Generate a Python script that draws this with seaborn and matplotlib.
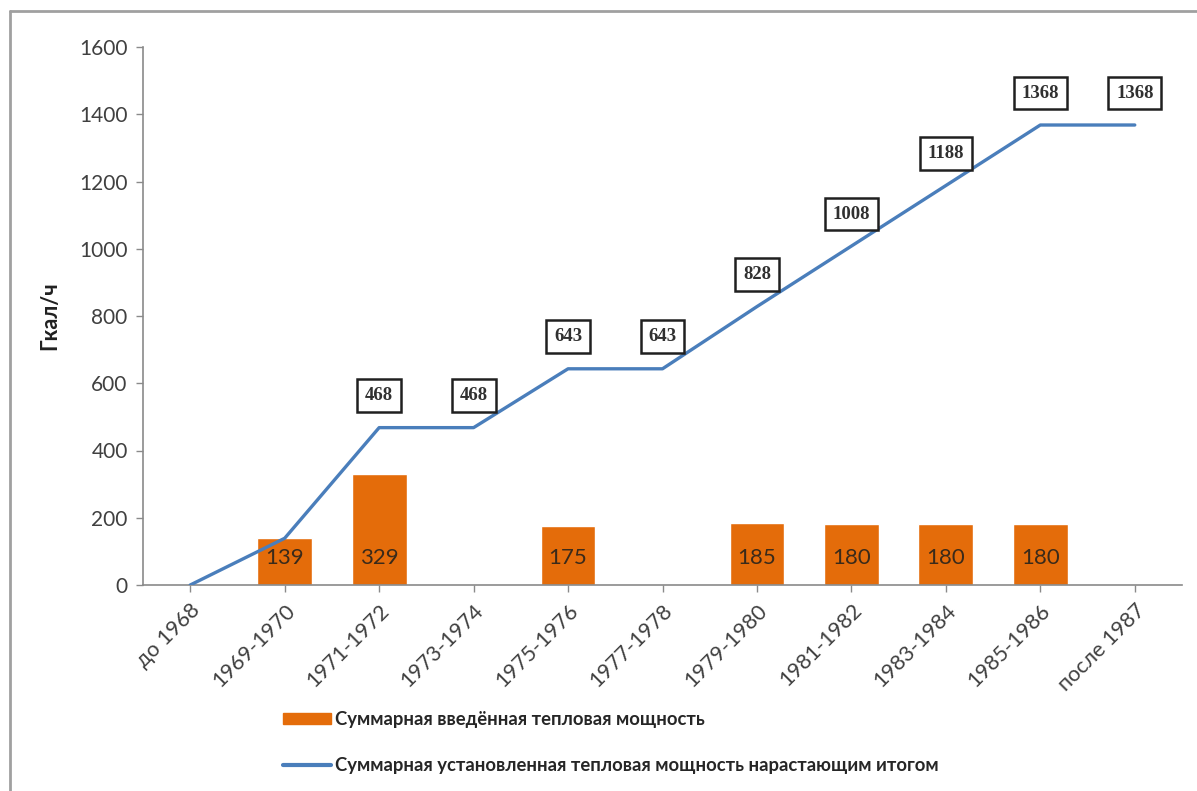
import numpy as np
import pandas as pd
import matplotlib
matplotlib.use("Agg")
import matplotlib.pyplot as plt
from matplotlib.lines import Line2D
from matplotlib.patches import Patch
import seaborn as sns

categories = ["до 1968", "1969-1970", "1971-1972", "1973-1974", "1975-1976",
              "1977-1978", "1979-1980", "1981-1982", "1983-1984", "1985-1986",
              "после 1987"]
added_power = [0, 139, 329, 0, 175, 0, 185, 180, 180, 180, 0]
cumulative_power = [0, 139, 468, 468, 643, 643, 828, 1008, 1188, 1368, 1368]
y_ticks = [0, 200, 400, 600, 800, 1000, 1200, 1400, 1600]
bar_label_name = "Суммарная введённая тепловая мощность"
line_label_name = "Суммарная установленная тепловая мощность нарастающим итогом"
y_label = "Гкал/ч"

sns.set_theme(style="white")
plt.rcParams['font.family'] = ['Lato', 'DejaVu Sans']

W, H = 1197, 791
fig = plt.figure(figsize=(W / 100, H / 100), dpi=100)
ax = fig.add_axes([143 / W, 1 - 585 / H, (1182 - 143) / W, (585 - 47) / H])

df = pd.DataFrame({"cat": categories, "added": added_power, "cum": cumulative_power})
bar_color = "#E46C0A"
line_color = "#4A7EBB"

sns.barplot(data=df, x="cat", y="added", color=bar_color, width=0.58,
            saturation=1, ax=ax, zorder=2)
pos = np.arange(len(categories))
sns.lineplot(x=pos, y=df["cum"].values, color=line_color, linewidth=2.4,
             ax=ax, zorder=3)

# bar labels
for i, v in enumerate(added_power):
    if v > 0:
        ax.annotate(str(v), (i, 0), xytext=(0, 27), textcoords="offset pixels",
                    ha="center", va="center", fontsize=16, color="#3a2a1a",
                    zorder=4)

# line labels in boxes
for i, v in enumerate(cumulative_power):
    if i < 2:
        continue
    ax.annotate(str(v), (i, v), xytext=(0, 32), textcoords="offset pixels",
                ha="center", va="center", fontsize=13.5, fontweight="bold",
                family=["Liberation Serif", "DejaVu Serif"], color="#303030",
                bbox=dict(boxstyle="square,pad=0.42", fc="white", ec="#202020", lw=1.8),
                zorder=5)

ax.set_xlim(-0.5, len(categories) - 0.5)
ax.set_ylim(0, 1600)
ax.set_yticks(y_ticks)
ax.set_yticklabels([str(t) for t in y_ticks], fontsize=15, color="#404040")
ax.set_xticks(pos)
ax.set_xticklabels(categories, rotation=45, ha="right", rotation_mode="anchor",
                   fontsize=15.5, color="#404040")
ax.set_xlabel("")
ax.set_ylabel(y_label, fontsize=15.5, fontweight="bold", color="#202020", labelpad=14)

for s in ["top", "right"]:
    ax.spines[s].set_visible(False)
for s in ["left", "bottom"]:
    ax.spines[s].set_color("#8a8a8a")
    ax.spines[s].set_linewidth(1.2)
ax.tick_params(axis="both", which="both", direction="out", length=5, width=1,
               color="#8a8a8a", left=True, bottom=True, pad=6)
ax.grid(False)

handles = [Patch(facecolor=bar_color, edgecolor=bar_color),
           Line2D([0], [0], color=line_color, lw=3)]
fig.legend(handles, [bar_label_name, line_label_name], loc="upper left",
           bbox_to_anchor=(283 / W, 1 - 711 / H), frameon=False,
           prop={"weight": "bold", "size": 13.3},
           handlelength=2.6, handleheight=0.55, handletextpad=0.2,
           labelspacing=1.55, borderpad=0, borderaxespad=0)

# outer frame (left and top)
fig.add_artist(Line2D([10 / W, 10 / W], [0, 1 - 11 / H], transform=fig.transFigure,
                      color="#a0a0a0", lw=2))
fig.add_artist(Line2D([10 / W, 1], [1 - 11 / H, 1 - 11 / H], transform=fig.transFigure,
                      color="#a0a0a0", lw=2))

fig.savefig("out.png", dpi=100)
